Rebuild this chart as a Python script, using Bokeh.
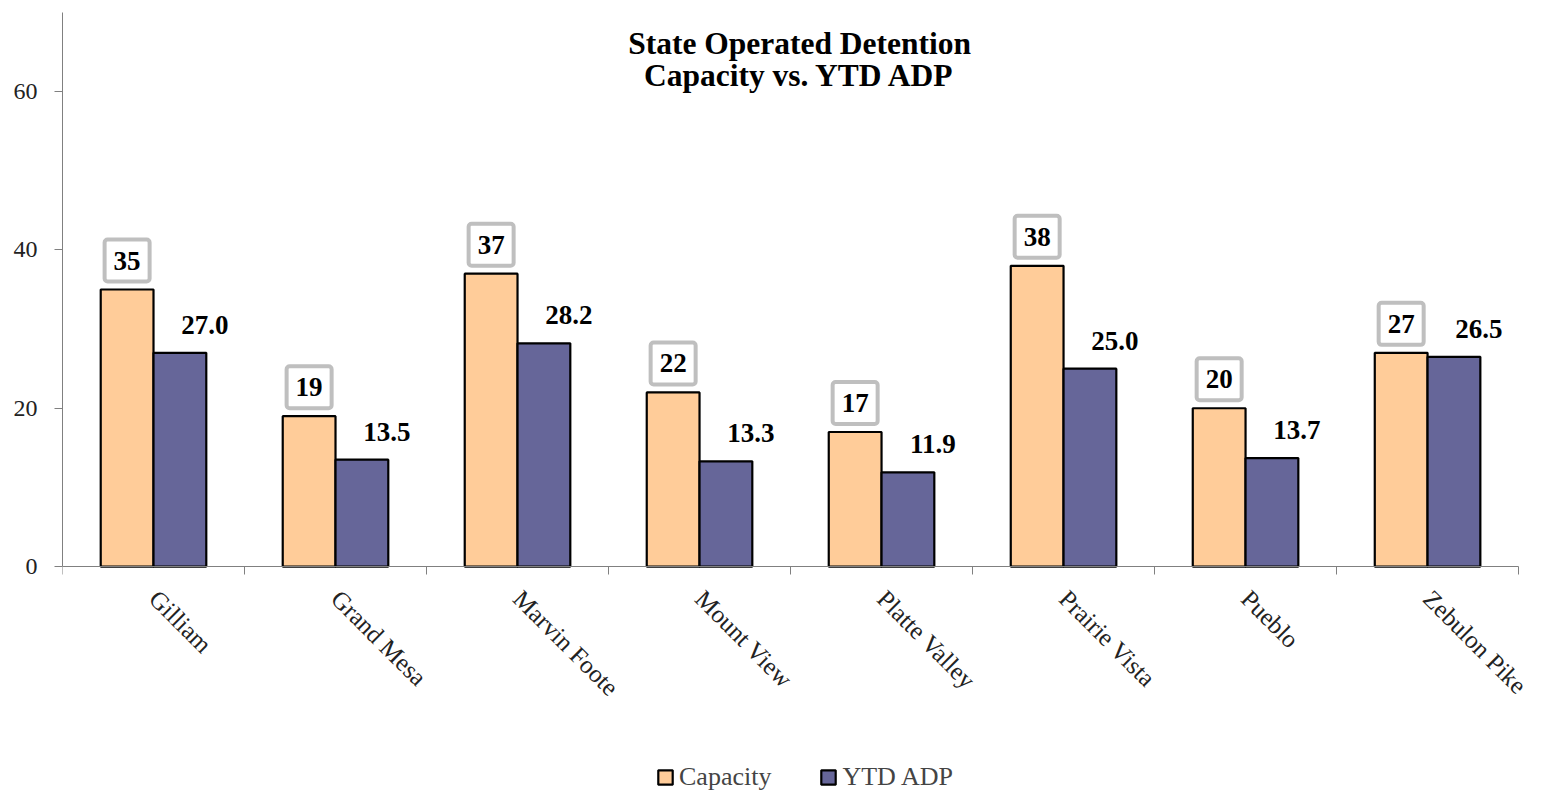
import math
from bokeh.plotting import figure
from bokeh.models import (Range1d, FixedTicker, Label, Legend, LegendItem, ColumnDataSource)
from bokeh.embed import file_html
from bokeh.resources import INLINE

categories = ["Gilliam", "Grand Mesa", "Marvin Foote", "Mount View",
              "Platte Valley", "Prairie Vista", "Pueblo", "Zebulon Pike"]
capacity = [35, 19, 37, 22, 17, 38, 20, 27]
ytd_adp = [27.0, 13.5, 28.2, 13.3, 11.9, 25.0, 13.7, 26.5]
y_ticks = [0, 20, 40, 60]
title_lines = ["State Operated Detention", "Capacity vs. YTD ADP"]
series_names = ["Capacity", "YTD ADP"]

FONT = "Liberation Serif"
CAP_COLOR = "#FFCC99"
ADP_COLOR = "#666699"
BAR_W = 0.29
Y_MAX = 70
Y_MIN_VIEW = -28.8   # room below the axis for labels and legend
X_PAD = 0.148        # room right of the last category for its rotated label

n = len(categories)
centers = [i + 0.5 for i in range(n)]
bounds = [float(i) for i in range(n + 1)]

p = figure(width=1548, height=794, output_backend="svg", toolbar_location=None,
           x_range=Range1d(0, n + X_PAD), y_range=Range1d(Y_MIN_VIEW, Y_MAX),
           min_border_left=62, min_border_right=3, min_border_top=12,
           min_border_bottom=0)
p.outline_line_color = None
p.xgrid.visible = False
p.ygrid.visible = False
p.background_fill_color = "white"

src = ColumnDataSource(dict(
    xc=[c - BAR_W / 2 for c in centers],
    xa=[c + BAR_W / 2 for c in centers],
    cap=capacity, adp=ytd_adp))

r_cap = p.vbar(x="xc", top="cap", width=BAR_W, source=src, fill_color=CAP_COLOR,
               line_color="black", line_width=2.2)
r_adp = p.vbar(x="xa", top="adp", width=BAR_W, source=src, fill_color=ADP_COLOR,
               line_color="black", line_width=2.2)

# y axis
ya = p.yaxis[0]
ya.ticker = FixedTicker(ticks=y_ticks)
ya.bounds = (0, Y_MAX)
ya.major_tick_out = 8
ya.major_tick_in = 0
ya.minor_tick_line_color = None
ya.axis_line_color = "#808080"
ya.major_tick_line_color = "#808080"
ya.major_label_text_font = FONT
ya.major_label_text_font_size = "24px"
ya.major_label_text_color = "#222222"
ya.major_label_standoff = 17

# x axis (sits at y = 0)
xa = p.xaxis[0]
xa.fixed_location = 0
xa.bounds = (0, n)
xa.ticker = FixedTicker(ticks=centers, minor_ticks=bounds)
xa.major_tick_line_color = None
xa.minor_tick_line_color = "#808080"
xa.minor_tick_out = 8
xa.minor_tick_in = 0
xa.axis_line_color = "#808080"
xa.major_label_overrides = {c: name for c, name in zip(centers, categories)}
xa.major_label_orientation = -math.pi / 4
xa.major_label_text_font = FONT
xa.major_label_text_font_size = "25px"
xa.major_label_text_color = "#222222"
xa.major_label_standoff = 20

# title inside plot
for txt, yv in zip(title_lines, [66.1, 62.1]):
    p.add_layout(Label(x=n / 2 + 0.05, y=yv, text=txt, text_align="center",
                       text_baseline="middle", text_font=FONT,
                       text_font_size="31.5px", text_font_style="bold",
                       text_color="black"))

# capacity labels (boxed)
for c, v in zip(centers, capacity):
    p.add_layout(Label(x=c - BAR_W / 2, y=v, y_offset=29, text=f"{v}",
                       text_align="center", text_baseline="middle",
                       text_font=FONT, text_font_size="27px",
                       text_font_style="bold", text_color="black",
                       background_fill_color="white",
                       border_line_color="#BFBFBF", border_line_width=4,
                       padding=(9, 12), border_radius=3))

# ADP labels
for c, v in zip(centers, ytd_adp):
    p.add_layout(Label(x=c + BAR_W / 2, y=v, x_offset=25, y_offset=28,
                       text=f"{v:.1f}", text_align="center",
                       text_baseline="middle", text_font=FONT,
                       text_font_size="27px", text_font_style="bold",
                       text_color="black"))

legend = Legend(items=[LegendItem(label=series_names[0], renderers=[r_cap]),
                       LegendItem(label=series_names[1], renderers=[r_adp])],
                orientation="horizontal", location=(594, 2),
                glyph_width=18, glyph_height=18, spacing=48, padding=0, margin=0,
                label_text_font=FONT, label_text_font_size="26px",
                label_standoff=5, border_line_color=None,
                background_fill_alpha=0)
p.add_layout(legend, "center")

open("out.html", "w").write(file_html(p, INLINE))
